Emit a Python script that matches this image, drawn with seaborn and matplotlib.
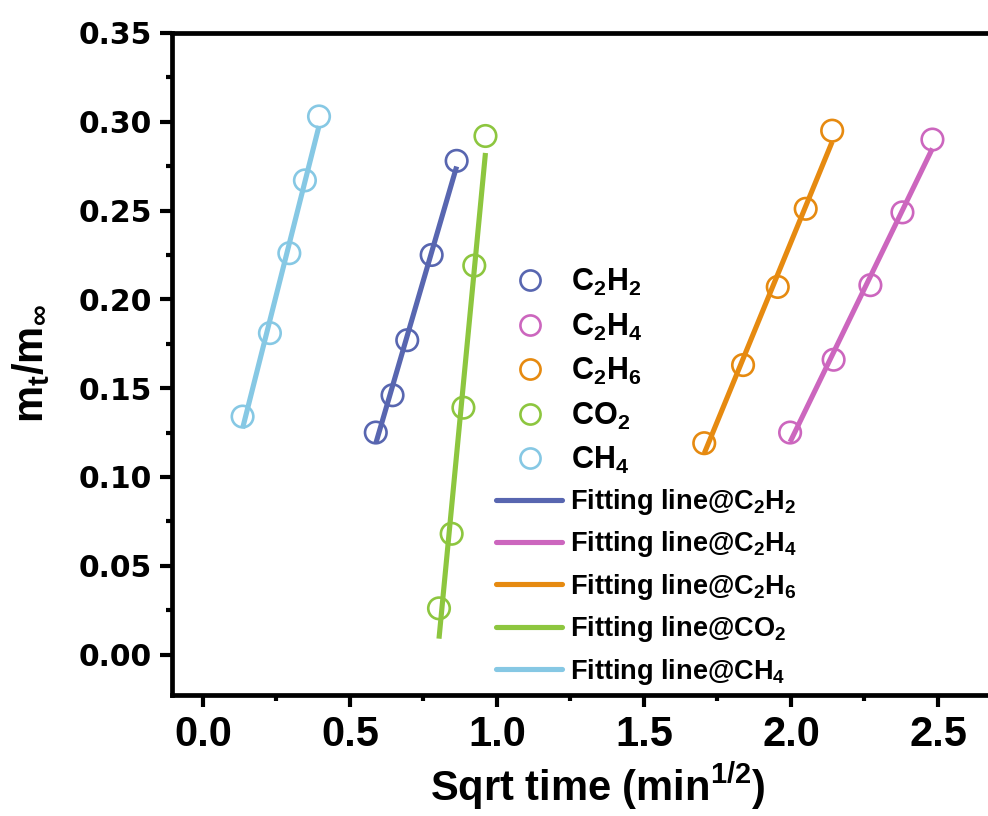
import numpy as np
import pandas as pd
import matplotlib
matplotlib.use("Agg")
import matplotlib.pyplot as plt
from matplotlib.lines import Line2D
from matplotlib.ticker import MultipleLocator
import seaborn as sns

# ---- data ----
gases = ["C2H2", "C2H4", "C2H6", "CO2", "CH4"]
labels_pts = ["C$_2$H$_2$", "C$_2$H$_4$", "C$_2$H$_6$", "CO$_2$", "CH$_4$"]
labels_fit = ["Fitting line@C$_2$H$_2$", "Fitting line@C$_2$H$_4$",
              "Fitting line@C$_2$H$_6$", "Fitting line@CO$_2$", "Fitting line@CH$_4$"]
colors = ["#5866B0", "#CC66BE", "#E68A10", "#8DC63F", "#86C8E4"]

x_c2h2 = [0.588, 0.645, 0.695, 0.778, 0.863]
y_c2h2 = [0.125, 0.146, 0.177, 0.225, 0.278]
x_c2h4 = [1.997, 2.145, 2.270, 2.379, 2.481]
y_c2h4 = [0.125, 0.166, 0.208, 0.249, 0.290]
x_c2h6 = [1.705, 1.837, 1.955, 2.050, 2.140]
y_c2h6 = [0.119, 0.163, 0.207, 0.251, 0.295]
x_co2 = [0.803, 0.846, 0.886, 0.923, 0.961]
y_co2 = [0.026, 0.068, 0.139, 0.219, 0.292]
x_ch4 = [0.135, 0.228, 0.294, 0.347, 0.395]
y_ch4 = [0.134, 0.181, 0.226, 0.267, 0.303]

xs = [x_c2h2, x_c2h4, x_c2h6, x_co2, x_ch4]
ys = [y_c2h2, y_c2h4, y_c2h6, y_co2, y_ch4]

x_ticks = [0.0, 0.5, 1.0, 1.5, 2.0, 2.5]
y_ticks = [0.00, 0.05, 0.10, 0.15, 0.20, 0.25, 0.30, 0.35]

# ---- tables ----
pts = pd.concat([pd.DataFrame({"gas": g, "x": x, "y": y}) for g, x, y in zip(gases, xs, ys)],
                ignore_index=True)
fit_rows = []
for g, x, y in zip(gases, xs, ys):
    k, b = np.polyfit(x, y, 1)
    xe = np.array([min(x), max(x)])
    fit_rows.append(pd.DataFrame({"gas": g, "x": xe, "y": k * xe + b}))
fits = pd.concat(fit_rows, ignore_index=True)
palette = dict(zip(gases, colors))

# ---- style ----
sns.set_style("ticks")
plt.rcParams["font.family"] = ["Liberation Sans", "DejaVu Sans"]
plt.rcParams["font.weight"] = "bold"
plt.rcParams["mathtext.default"] = "regular"
for key in ["text.color", "axes.labelcolor", "xtick.color", "ytick.color", "axes.edgecolor"]:
    plt.rcParams[key] = "black"

fig = plt.figure(figsize=(9.88, 8.16), dpi=100)
W, H = 988, 816
ax = fig.add_axes([172 / W, (H - 695) / H, (W - 172) / W, (695 - 33) / H])

sns.lineplot(data=fits, x="x", y="y", hue="gas", palette=palette, linewidth=3.7,
             legend=False, ax=ax, zorder=2, solid_capstyle="butt")
for g, c in zip(gases, colors):
    sub = pts[pts["gas"] == g]
    sns.scatterplot(data=sub, x="x", y="y", ax=ax, s=240, marker="o",
                    linewidth=1.9, legend=False, zorder=3)
    coll = ax.collections[-1]
    coll.set_facecolor("none")
    coll.set_edgecolor(c)

ax.set_xlim(-0.105, 2.67)
ax.set_ylim(-0.0228, 0.35)
ax.set_xticks(x_ticks)
ax.set_yticks(y_ticks)
ax.xaxis.set_minor_locator(MultipleLocator(0.25))
ax.yaxis.set_minor_locator(MultipleLocator(0.025))
ax.set_xticklabels([f"{v:.1f}" for v in x_ticks],
                   family=["Liberation Sans Narrow", "Liberation Sans"],
                   fontsize=30, fontweight="bold")
ax.set_yticklabels([f"{v:.2f}" for v in y_ticks], family=["DejaVu Sans"],
                   fontsize=21.5, fontweight="bold")
for s in ["left", "bottom", "top"]:
    ax.spines[s].set_linewidth(3.4)
    ax.spines[s].set_color("black")
ax.spines["right"].set_visible(False)
ax.tick_params(which="major", direction="out", length=8.5, width=3.0, color="black")
ax.tick_params(which="minor", direction="out", length=4.5, width=3.0, color="black")
ax.tick_params(axis="y", pad=6)
ax.tick_params(axis="x", pad=6)

ax.set_xlabel("Sqrt time (min$^{1/2}$)", family=["Liberation Sans Narrow", "Liberation Sans"],
              fontsize=30, fontweight="bold")
ax.xaxis.set_label_coords((598 - 172) / (W - 172), -(761 - 695) / (695 - 33))
ax.set_ylabel("m$_t$/m$_\\infty$", fontsize=30, fontweight="bold")
ax.yaxis.set_label_coords(-(172 - 52) / (W - 172), 0.5)

# ---- legends ----
h_pts = [Line2D([], [], ls="none", marker="o", ms=14.5, mfc="none", mec=c, mew=1.9)
         for c in colors]
leg1 = fig.legend(h_pts, labels_pts, loc="upper left",
                  bbox_to_anchor=(496 / W, 1 - 267 / H), bbox_transform=fig.transFigure,
                  frameon=False, handlelength=2.2, handletextpad=0.27,
                  labelspacing=0.44, borderpad=0, borderaxespad=0,
                  prop={"family": "Liberation Sans", "weight": "bold", "size": 22})
h_fit = [Line2D([], [], color=c, lw=3.7) for c in colors]
leg2 = fig.legend(h_fit, labels_fit, loc="upper left",
                  bbox_to_anchor=(496 / W, 1 - 487 / H), bbox_transform=fig.transFigure,
                  frameon=False, handlelength=2.44, handletextpad=0.3,
                  labelspacing=0.46, borderpad=0, borderaxespad=0,
                  prop={"family": "Liberation Sans", "weight": "bold", "size": 19.5})
for leg in (leg1, leg2):
    for t in leg.get_texts():
        t.set_color("black")

fig.savefig("out.png", dpi=100)
